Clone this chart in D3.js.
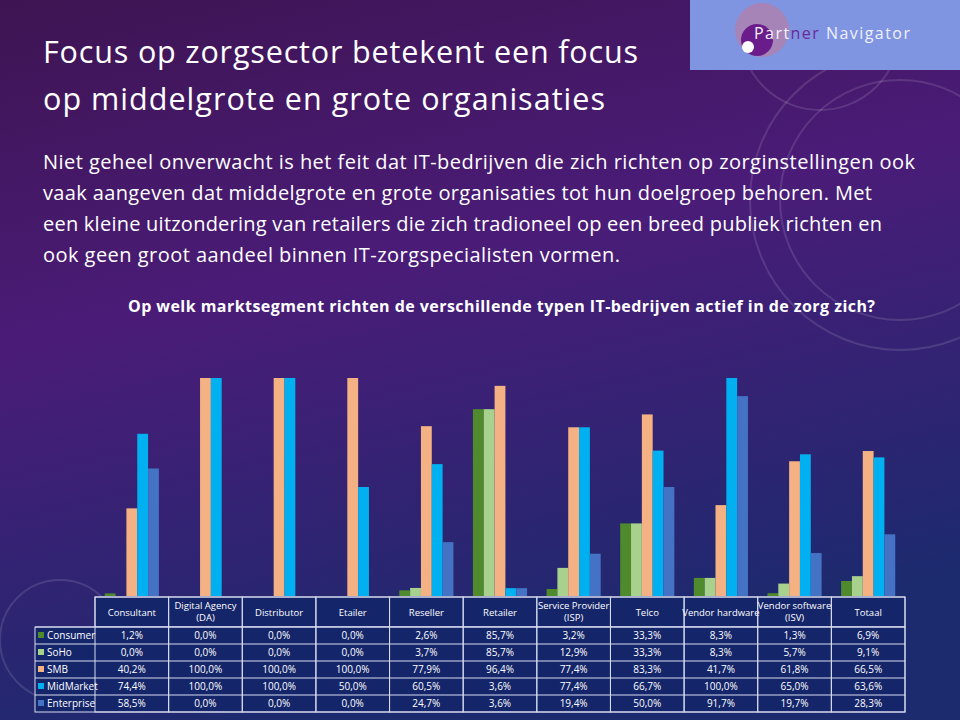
<!DOCTYPE html>
<html><head><meta charset="utf-8">
<script src="https://cdn.jsdelivr.net/npm/d3@7"></script>
<style>body{margin:0;overflow:hidden}</style>
</head><body>
<svg id="chart" width="960" height="720"></svg>
<script>
// chart data
const categories = ["Consultant", "Digital Agency\n(DA)", "Distributor", "Etailer", "Reseller", "Retailer",
  "Service Provider\n(ISP)", "Telco", "Vendor hardware", "Vendor software\n(ISV)", "Totaal"];
const seriesNames = ["Consumer", "SoHo", "SMB", "MidMarket", "Enterprise"];
const consumer = [1.2, 0, 0, 0, 2.6, 85.7, 3.2, 33.3, 8.3, 1.3, 6.9];
const soho = [0, 0, 0, 0, 3.7, 85.7, 12.9, 33.3, 8.3, 5.7, 9.1];
const smb = [40.2, 100, 100, 100, 77.9, 96.4, 77.4, 83.3, 41.7, 61.8, 66.5];
const midmarket = [74.4, 100, 100, 50, 60.5, 3.6, 77.4, 66.7, 100, 65, 63.6];
const enterprise = [58.5, 0, 0, 0, 24.7, 3.6, 19.4, 50, 91.7, 19.7, 28.3];
const colors = ["#4f8a2d", "#a9d18e", "#f4b183", "#00b0f0", "#4472c4"];
const seriesValues = [consumer, soho, smb, midmarket, enterprise];

const svg = d3.select("#chart");
const defs = svg.append("defs");
let grad = defs.append("linearGradient").attr("id", "bg")
  .attr("x1", 0).attr("y1", 0).attr("x2", 0.3).attr("y2", 1);
grad.append("stop").attr("offset", "0%").attr("stop-color", "#3e1452");
grad.append("stop").attr("offset", "45%").attr("stop-color", "#4a1c78");
grad.append("stop").attr("offset", "100%").attr("stop-color", "#1c2a6e");
svg.append("rect").attr("width", 960).attr("height", 720).attr("fill", "url(#bg)");

// faint decorative circles
[[900, 200, 150], [900, 200, 120], [60, 640, 60], [820, 30, 80]].forEach(c => {
  svg.append("circle").attr("cx", c[0]).attr("cy", c[1]).attr("r", c[2])
    .attr("fill", "none").attr("stroke", "#ffffff").attr("stroke-opacity", 0.12).attr("stroke-width", 2);
});

// logo box
svg.append("rect").attr("x", 690).attr("y", 0).attr("width", 270).attr("height", 70).attr("fill", "#7f95e2");
svg.append("circle").attr("cx", 762).attr("cy", 30).attr("r", 27).attr("fill", "#a784b8");
svg.append("circle").attr("cx", 757).attr("cy", 40).attr("r", 16).attr("fill", "#6a1d8a");
svg.append("circle").attr("cx", 748).attr("cy", 47).attr("r", 6).attr("fill", "#fff");
let logo = svg.append("text").attr("x", 754).attr("y", 39).attr("font-family", "Open Sans")
  .attr("font-size", 16).attr("textLength", 156).attr("fill", "#f0f0ff");
logo.append("tspan").text("Part");
logo.append("tspan").attr("fill", "#6a2a9a").text("ner");
logo.append("tspan").text(" Navigator");

// title and body text
const font = "'Open Sans', 'Noto Sans', sans-serif";
[["Focus op zorgsector betekent een focus", 63, 595], ["op middelgrote en grote organisaties", 110, 562]].forEach(t => {
  svg.append("text").attr("x", 43).attr("y", t[1]).attr("font-family", font).attr("font-size", 30.5)
    .attr("textLength", t[2]).attr("fill", "#fff").text(t[0]);
});
[["Niet geheel onverwacht is het feit dat IT-bedrijven die zich richten op zorginstellingen ook", 872],
 ["vaak aangeven dat middelgrote en grote organisaties tot hun doelgroep behoren. Met", 829],
 ["een kleine uitzondering van retailers die zich tradioneel op een breed publiek richten en", 839],
 ["ook geen groot aandeel binnen IT-zorgspecialisten vormen.", 577]].forEach((t, i) => {
  svg.append("text").attr("x", 43).attr("y", 169 + i * 31).attr("font-family", font).attr("font-size", 20)
    .attr("textLength", t[1]).attr("fill", "#fff").text(t[0]);
});
svg.append("text").attr("x", 128).attr("y", 312).attr("font-family", font)
  .attr("font-weight", "bold").attr("font-size", 16).attr("textLength", 747).attr("fill", "#fff")
  .text("Op welk marktsegment richten de verschillende typen IT-bedrijven actief in de zorg zich?");

// scales
const x = d3.scaleBand().domain(categories).range([95, 905]);
const xi = d3.scaleBand().domain(seriesNames).range([0, x.bandwidth()]).paddingInner(0).paddingOuter(0.9);
const y = d3.scaleLinear().domain([0, 100]).range([596, 378]);

const groups = svg.append("g").selectAll("g").data(categories).join("g")
  .attr("transform", d => `translate(${x(d)},0)`);
groups.selectAll("rect").data((d, i) => seriesNames.map((s, j) => ({ s, j, v: seriesValues[j][i] })))
  .join("rect")
  .attr("x", d => xi(d.s)).attr("width", xi.bandwidth())
  .attr("y", d => y(d.v)).attr("height", d => y(0) - y(d.v))
  .attr("fill", d => colors[d.j]);

// data table
const tbl = svg.append("g");
const rowTop = 597, headH = 30, rowH = 17;
tbl.append("rect").attr("x", 95).attr("y", rowTop).attr("width", 810).attr("height", headH)
  .attr("fill", "#14256a").attr("stroke", "#d8dcf0");
tbl.append("rect").attr("x", 35).attr("y", rowTop + headH).attr("width", 870).attr("height", rowH * 5)
  .attr("fill", "#14256a").attr("stroke", "#d8dcf0");
categories.forEach(c => {
  tbl.append("rect").attr("x", x(c)).attr("y", rowTop).attr("width", x.bandwidth()).attr("height", headH + rowH * 5)
    .attr("fill", "none").attr("stroke", "#d8dcf0");
  const lines = c.split("\n");
  lines.forEach((l, k) => {
    tbl.append("text").attr("x", x(c) + x.bandwidth() / 2)
      .attr("y", rowTop + (lines.length === 1 ? 19 : 12 + k * 12))
      .attr("text-anchor", "middle").attr("font-family", font).attr("font-size", 9.5).attr("fill", "#fff").text(l);
  });
});
seriesNames.forEach((s, j) => {
  const ry = rowTop + headH + j * rowH;
  tbl.append("line").attr("x1", 35).attr("x2", 905).attr("y1", ry).attr("y2", ry).attr("stroke", "#d8dcf0");
  tbl.append("rect").attr("x", 38).attr("y", ry + 5).attr("width", 6).attr("height", 6).attr("fill", colors[j]);
  tbl.append("text").attr("x", 47).attr("y", ry + 12).attr("font-family", font).attr("font-size", 10)
    .attr("fill", "#fff").text(s);
  categories.forEach((c, i) => {
    tbl.append("text").attr("x", x(c) + x.bandwidth() / 2).attr("y", ry + 12).attr("text-anchor", "middle")
      .attr("font-family", font).attr("font-size", 10).attr("fill", "#fff")
      .text(seriesValues[j][i].toFixed(1).replace(".", ",") + "%");
  });
});
</script>
</body></html>
